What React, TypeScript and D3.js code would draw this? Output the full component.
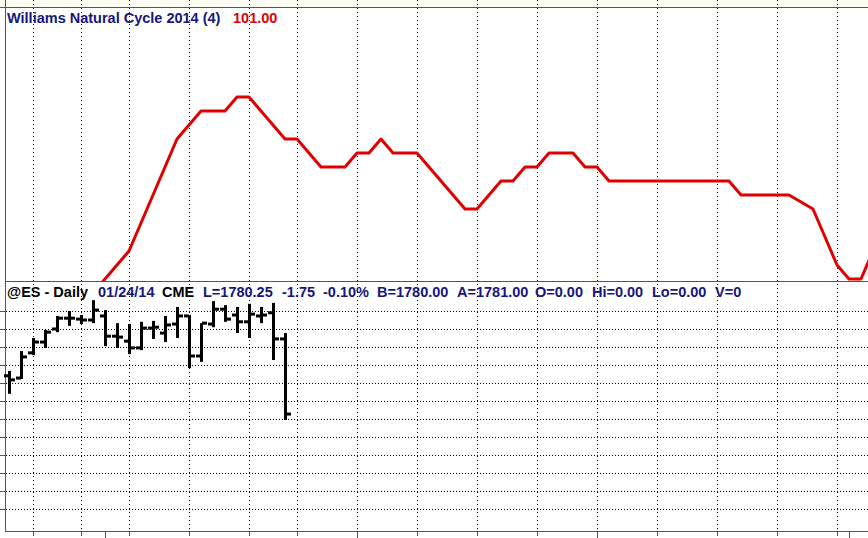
import React from "react";
import * as d3 from "d3";

// ---------- data ----------
const PAST_DATES = [
  "2013-12-19", "2013-12-20", "2013-12-23", "2013-12-24", "2013-12-26", "2013-12-27",
  "2013-12-30", "2013-12-31", "2014-01-02", "2014-01-03", "2014-01-06", "2014-01-07",
  "2014-01-08", "2014-01-09", "2014-01-10", "2014-01-13", "2014-01-14", "2014-01-15",
  "2014-01-16", "2014-01-17", "2014-01-21", "2014-01-22", "2014-01-23", "2014-01-24",
];
const FUTURE_DATES = [
  "2014-01-27", "2014-01-28", "2014-01-29", "2014-01-30", "2014-01-31",
  "2014-02-03", "2014-02-04", "2014-02-05", "2014-02-06", "2014-02-07",
  "2014-02-10", "2014-02-11", "2014-02-12", "2014-02-13", "2014-02-14",
  "2014-02-17", "2014-02-18", "2014-02-19", "2014-02-20", "2014-02-21",
  "2014-02-24", "2014-02-25", "2014-02-26", "2014-02-27", "2014-02-28",
  "2014-03-03", "2014-03-04", "2014-03-05", "2014-03-06", "2014-03-07",
  "2014-03-10", "2014-03-11", "2014-03-12", "2014-03-13", "2014-03-14",
  "2014-03-17", "2014-03-18", "2014-03-19", "2014-03-20", "2014-03-21",
  "2014-03-24", "2014-03-25", "2014-03-26", "2014-03-27", "2014-03-28",
  "2014-03-31", "2014-04-01", "2014-04-02", "2014-04-03",
];

const OPEN = [1799, 1797.75, 1811.75, 1817.75, 1825, 1831, 1830.5, 1830, 1832.25, 1821, 1818.25, 1814.5,
  1825.5, 1822.75, 1827.75, 1832.25, 1810, 1827.75, 1836, 1832.75, 1829, 1832.25, 1834, 1819.5];
const HIGH = [1801.75, 1812.75, 1820, 1824.5, 1832.25, 1835, 1832.75, 1841, 1835.5, 1828.25, 1827.75, 1829,
  1829.5, 1832.25, 1837.25, 1832.75, 1828.25, 1840.5, 1838.25, 1837.25, 1839, 1837.25, 1839.5, 1822.75];
const LOW = [1789, 1797.25, 1810.5, 1814.5, 1823.25, 1826.75, 1827.75, 1828.25, 1815.5, 1814.5, 1811, 1813.25,
  1819.5, 1817.75, 1820, 1803.25, 1806.75, 1826, 1829, 1822.75, 1820, 1828.25, 1807.75, 1774.5];
const CLOSE = [1796.75, 1809.5, 1817.75, 1823.25, 1831, 1831, 1830, 1835.5, 1821, 1820.5, 1814.5, 1825.5,
  1826, 1827.25, 1832.25, 1810, 1828.25, 1836, 1830.5, 1829, 1833.25, 1832.75, 1819.5, 1777.75];

const CYCLE_START = "2013-12-31";
const CYCLE = [
  90, 91, 92, 93, 95, 97, 99, 101, 102, 103, 103, 103, 104, 104, 103, 102, 101,
  101, 100, 99, 99, 99, 100, 100, 101, 100, 100, 100, 99, 98, 97, 96, 96, 97, 98, 98,
  99, 99, 100, 100, 100, 99, 99, 98, 98, 98, 98, 98, 98, 98, 98, 98, 98, 98,
  97, 97, 97, 97, 97, 96.5, 96, 94, 92, 91, 91, 93,
];

const PRICE_TICKS = [1725, 1735, 1745, 1755, 1765, 1775, 1785, 1795, 1805, 1815, 1825, 1835];

const TITLE = "Williams Natural Cycle 2014 (4)";
const TITLE_VALUE = "101.00";
const HEADER_LABELS = ["@ES - Daily", "01/24/14", "CME", "L=1780.25", "-1.75", "-0.10%",
  "B=1780.00", "A=1781.00", "O=0.00", "Hi=0.00", "Lo=0.00", "V=0"];

// ---------- layout ----------
const W = 868;
const H = 538;
const HEADER_X = [7, 98, 162, 203, 282, 323, 377, 457, 535, 592, 652, 715];
const HEADER_DARK = [true, false, true, false, false, false, false, false, false, false, false, false];
const AXIS_RED = "#b8283c";
const NAVY = "#16167a";
const TOP_Y = 7;
const SEP_Y = 281;
const AXIS_Y = 531;
const LEFT_X = 5;
const FONT_SIZE = 14.5;

export default function App() {
  const parse = d3.utcParse("%Y-%m-%d");
  const allDates = [...PAST_DATES, ...FUTURE_DATES];
  const x = d3.scalePoint<string>().domain(allDates).range([9, 9 + 12 * (allDates.length - 1)]);

  const yPrice = d3.scaleLinear().domain([1775, 1835]).range([419, 311]);
  const yCycle = d3.scaleLinear().domain([91, 104]).range([279, 97]);

  const weekStarts: string[] = [];
  const monthStarts: string[] = [];
  allDates.forEach((d, i) => {
    if (i === 0) return;
    const cur = parse(d)!;
    const prev = parse(allDates[i - 1])!;
    if (+d3.utcMonday.floor(cur) !== +d3.utcMonday.floor(prev)) weekStarts.push(d);
    if (cur.getUTCMonth() !== prev.getUTCMonth()) monthStarts.push(d);
  });

  const startIdx = allDates.indexOf(CYCLE_START);
  const cyclePts = CYCLE.map((v, i) => ({ d: allDates[startIdx + i], v }));
  const line = d3
    .line<{ d: string; v: number }>()
    .x((p) => x(p.d)!)
    .y((p) => yCycle(p.v));

  return (
    <svg
      width={W}
      height={H}
      style={{ position: "absolute", left: 0, top: 0, background: "#ffffff" }}
      fontFamily="'Liberation Sans', Arial, sans-serif"
    >
      <defs>
        <clipPath id="topPanel">
          <rect x={LEFT_X + 1} y={TOP_Y + 1} width={W - LEFT_X} height={SEP_Y - TOP_Y - 1} />
        </clipPath>
      </defs>
      <rect x={0} y={0} width={W} height={TOP_Y} fill="#fdfdf3" />

      {/* vertical dotted weekly grid */}
      {weekStarts.map((d) => (
        <line
          key={"vg" + d}
          x1={x(d)! + 0.5}
          x2={x(d)! + 0.5}
          y1={0}
          y2={AXIS_Y}
          stroke="#000"
          strokeWidth={1}
          strokeDasharray="1 3"
          shapeRendering="crispEdges"
        />
      ))}

      {/* horizontal dotted price grid */}
      {PRICE_TICKS.map((t) => (
        <line
          key={"hg" + t}
          x1={LEFT_X + 1}
          x2={W}
          y1={Math.round(yPrice(t)) + 0.5}
          y2={Math.round(yPrice(t)) + 0.5}
          stroke="#000"
          strokeWidth={1}
          strokeDasharray="1 2"
          shapeRendering="crispEdges"
        />
      ))}

      {/* left ticks */}
      {PRICE_TICKS.map((t) => (
        <line
          key={"lt" + t}
          x1={0}
          x2={LEFT_X}
          y1={Math.round(yPrice(t)) + 0.5}
          y2={Math.round(yPrice(t)) + 0.5}
          stroke={AXIS_RED}
          strokeWidth={1}
          shapeRendering="crispEdges"
        />
      ))}

      {/* frame lines */}
      <line x1={0} x2={W} y1={TOP_Y + 0.5} y2={TOP_Y + 0.5} stroke={AXIS_RED} strokeWidth={1} shapeRendering="crispEdges" />
      <line x1={LEFT_X} x2={W} y1={SEP_Y + 0.5} y2={SEP_Y + 0.5} stroke={AXIS_RED} strokeWidth={1} shapeRendering="crispEdges" />
      <line x1={LEFT_X} x2={W} y1={AXIS_Y + 0.5} y2={AXIS_Y + 0.5} stroke={AXIS_RED} strokeWidth={1} shapeRendering="crispEdges" />
      <line x1={LEFT_X + 0.5} x2={LEFT_X + 0.5} y1={0} y2={AXIS_Y + 1} stroke={AXIS_RED} strokeWidth={1} shapeRendering="crispEdges" />

      {/* bottom axis ticks */}
      {weekStarts.map((d) => (
        <line key={"bt" + d} x1={x(d)! + 0.5} x2={x(d)! + 0.5} y1={AXIS_Y + 1} y2={AXIS_Y + 5} stroke={AXIS_RED} strokeWidth={1} shapeRendering="crispEdges" />
      ))}
      {monthStarts.map((d) => (
        <line key={"mt" + d} x1={x(d)! + 0.5} x2={x(d)! + 0.5} y1={AXIS_Y + 1} y2={H} stroke={AXIS_RED} strokeWidth={1} shapeRendering="crispEdges" />
      ))}

      {/* cycle line */}
      <g clipPath="url(#topPanel)">
        <path d={line(cyclePts)!} fill="none" stroke="#e00000" strokeWidth={3} strokeLinejoin="round" />
      </g>

      {/* OHLC bars */}
      {PAST_DATES.map((d, i) => {
        const cx = x(d)!;
        const yh = yPrice(HIGH[i]);
        const yl = yPrice(LOW[i]);
        const yo = yPrice(OPEN[i]);
        const yc = yPrice(CLOSE[i]);
        return (
          <g key={"bar" + d} fill="#000">
            <rect x={cx - 1} y={yh} width={3} height={yl - yh} />
            <rect x={cx - 5} y={yo - 1.5} width={5} height={3} />
            <rect x={cx + 1} y={yc - 1.5} width={5} height={3} />
          </g>
        );
      })}

      {/* title */}
      <text x={7} y={23} fontSize={FONT_SIZE} fontWeight="bold" fill={NAVY}>
        {TITLE}
      </text>
      <text x={233} y={23} fontSize={FONT_SIZE} fontWeight="bold" fill="#e00000">
        {TITLE_VALUE}
      </text>

      {/* header */}
      {HEADER_LABELS.map((s, i) => (
        <text key={"h" + i} x={HEADER_X[i]} y={297} fontSize={FONT_SIZE} fontWeight="bold" fill={HEADER_DARK[i] ? "#000" : NAVY}>
          {s}
        </text>
      ))}
    </svg>
  );
}
